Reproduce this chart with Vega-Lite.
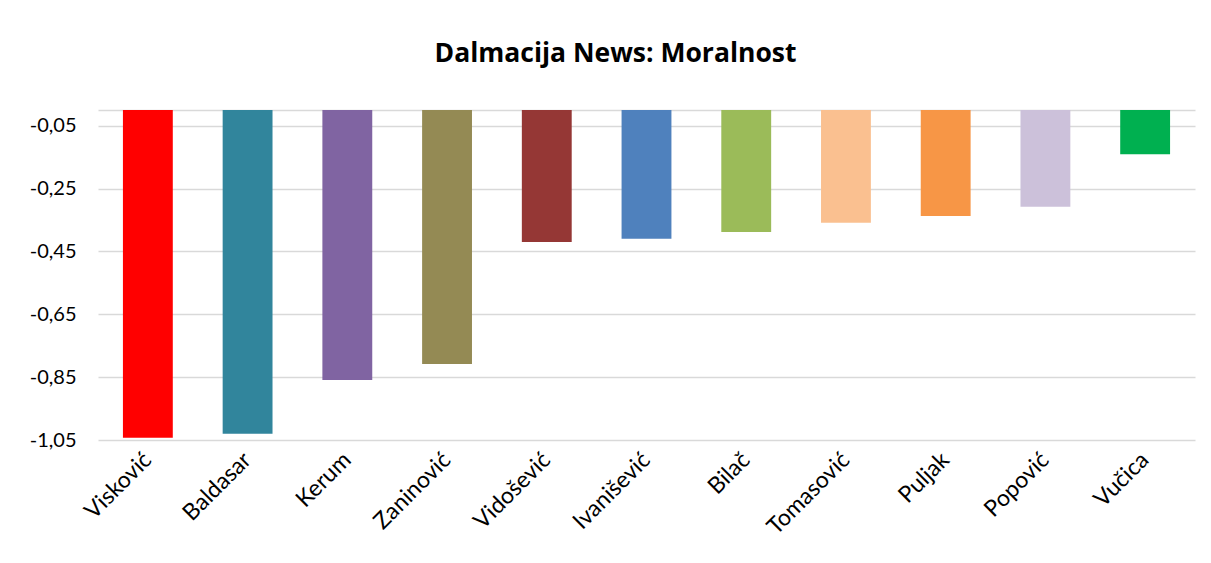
{
  "$schema": "https://vega.github.io/schema/vega-lite/v6.json",
  "width": 1097,
  "height": 330,
  "autosize": {"type": "none"},
  "padding": {"left": 98, "top": 110, "right": 16, "bottom": 123},
  "background": "white",
  "title": {
    "text": "Dalmacija News: Moralnost",
    "font": "Open Sans",
    "fontSize": 26.5,
    "fontWeight": "bold",
    "color": "#000000",
    "anchor": "middle",
    "dx": -31,
    "offset": 43
  },
  "data": {
    "values": [
      {"name": "Visković", "value": -1.043},
      {"name": "Baldasar", "value": -1.030},
      {"name": "Kerum", "value": -0.859},
      {"name": "Zaninović", "value": -0.808},
      {"name": "Vidošević", "value": -0.420},
      {"name": "Ivanišević", "value": -0.410},
      {"name": "Bilač", "value": -0.388},
      {"name": "Tomasović", "value": -0.359},
      {"name": "Puljak", "value": -0.337},
      {"name": "Popović", "value": -0.308},
      {"name": "Vučica", "value": -0.141}
    ]
  },
  "mark": {"type": "bar"},
  "encoding": {
    "x": {
      "field": "name",
      "type": "nominal",
      "sort": null,
      "scale": {"paddingInner": 0.5, "paddingOuter": 0.25},
      "axis": {
        "title": null,
        "labelAngle": -45,
        "labelAlign": "right",
        "labelBaseline": "middle",
        "labelFont": "Lato",
        "labelFontSize": 23,
        "labelColor": "#000000",
        "ticks": false,
        "domain": false,
        "labelPadding": 16
      }
    },
    "y": {
      "field": "value",
      "type": "quantitative",
      "scale": {"domain": [-1.05, 0], "nice": false, "zero": false},
      "axis": {
        "title": null,
        "values": [-1.05, -0.85, -0.65, -0.45, -0.25, -0.05, 0],
        "labelExpr": "datum.value == 0 ? '' : replace(replace(format(datum.value, '.2f'), '.', ','), '\u2212', '-')",
        "labelFont": "Lato",
        "labelFontSize": 20,
        "labelColor": "#000000",
        "labelPadding": 22,
        "ticks": false,
        "domain": false,
        "grid": true,
        "gridColor": "#D9D9D9",
        "gridWidth": 1.5
      }
    },
    "y2": {"datum": 0},
    "color": {
      "field": "name",
      "type": "nominal",
      "sort": null,
      "scale": {
        "domain": ["Visković", "Baldasar", "Kerum", "Zaninović", "Vidošević", "Ivanišević", "Bilač", "Tomasović", "Puljak", "Popović", "Vučica"],
        "range": ["#FF0000", "#31859C", "#8064A2", "#948A54", "#953735", "#4F81BD", "#9BBB59", "#FAC090", "#F79646", "#CCC1DA", "#00B050"]
      },
      "legend": null
    }
  },
  "config": {"view": {"stroke": null}}
}
